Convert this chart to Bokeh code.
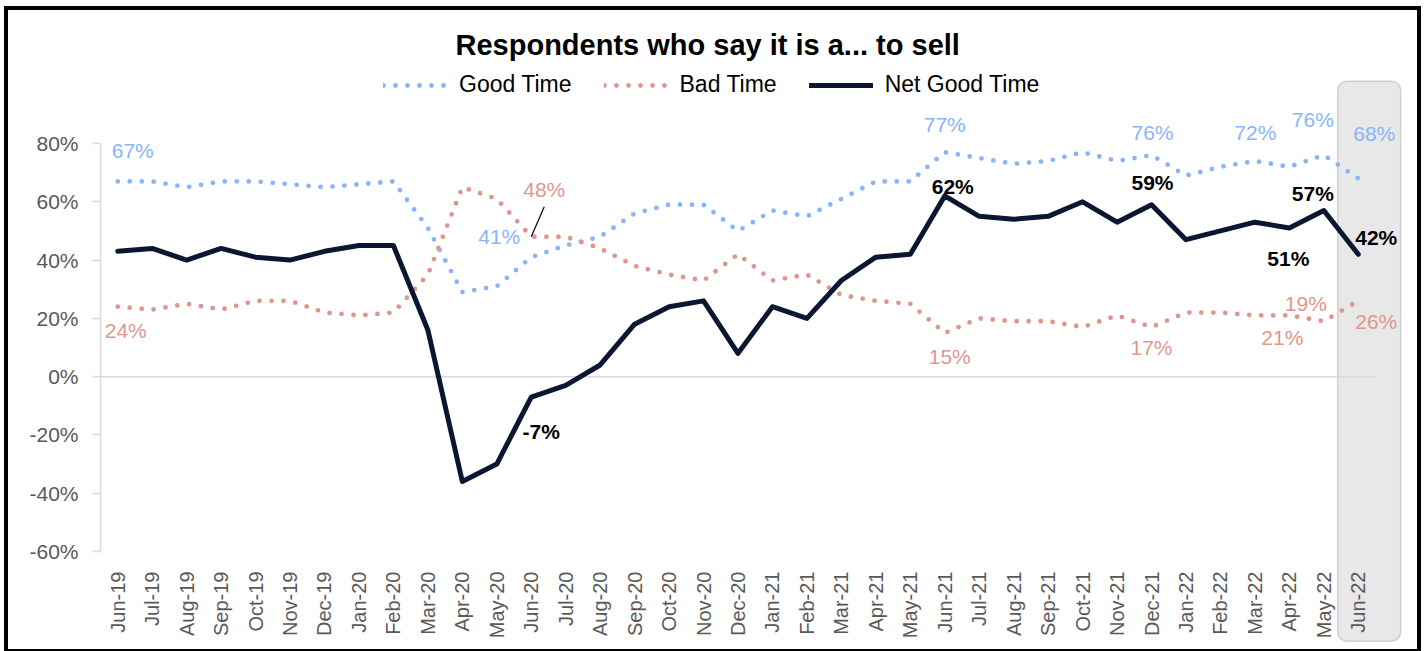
import math
from bokeh.plotting import figure
from bokeh.models import (Range1d, FixedTicker, NumeralTickFormatter,
                          BoxAnnotation, Legend, LegendItem, ColumnDataSource)
from bokeh.core.properties import value
from bokeh.embed import file_html
from bokeh.resources import INLINE

# ---------------- data ----------------
months = ["Jun-19", "Jul-19", "Aug-19", "Sep-19", "Oct-19", "Nov-19", "Dec-19", "Jan-20",
          "Feb-20", "Mar-20", "Apr-20", "May-20", "Jun-20", "Jul-20", "Aug-20", "Sep-20",
          "Oct-20", "Nov-20", "Dec-20", "Jan-21", "Feb-21", "Mar-21", "Apr-21", "May-21",
          "Jun-21", "Jul-21", "Aug-21", "Sep-21", "Oct-21", "Nov-21", "Dec-21", "Jan-22",
          "Feb-22", "Mar-22", "Apr-22", "May-22", "Jun-22"]
good = [67, 67, 65, 67, 67, 66, 65, 66, 67, 51, 29, 31, 41, 45, 48, 56, 59, 59, 50, 57, 55,
        61, 67, 67, 77, 75, 73, 74, 77, 74, 76, 69, 72, 74, 72, 76, 68]
bad = [24, 23, 25, 23, 26, 26, 22, 21, 22, 35, 65, 61, 48, 48, 44, 38, 35, 33, 42, 33, 35,
       28, 26, 25, 15, 20, 19, 19, 17, 21, 17, 22, 22, 21, 21, 19, 26]
net = [43, 44, 40, 44, 41, 40, 43, 45, 45, 16, -36, -30, -7, -3, 4, 18, 24, 26, 8, 24, 20,
       33, 41, 42, 62, 55, 54, 55, 60, 53, 59, 47, 50, 53, 51, 57, 42]
y_ticks = [-0.6, -0.4, -0.2, 0.0, 0.2, 0.4, 0.6, 0.8]

# labelled points (month names) and their pixel offsets
good_lab_months = ["Jun-19", "Jun-20", "Jun-21", "Dec-21", "Apr-22", "May-22", "Jun-22"]
good_lab_dx = [15, -32, 0, 1, -34, -11, 16]
good_lab_dy = [-31, -21, -28, -23, -34, -36, -45]
bad_lab_months = ["Jun-19", "Jun-20", "Jun-21", "Dec-21", "Apr-22", "May-22", "Jun-22"]
bad_lab_dx = [8, 13, 5, 0, -7, -18, 18]
bad_lab_dy = [24, -47, 24, 20, 22, -18, 21]
net_lab_months = ["Jun-20", "Jun-21", "Dec-21", "Apr-22", "May-22", "Jun-22"]
net_lab_dx = [10, 8, 1, -1, -11, 18]
net_lab_dy = [34, -9, -22, 30, -17, -17]

FONT = "Liberation Sans"
GOOD_C = "#8AB4F8"
BAD_C = "#DE978D"
NET_C = "#0B1630"
AX_C = "#D9D9D9"
TXT_C = "#595959"

W, H = 1409, 639
BL, BR, BT, BB = 92, 4, 52, 0
YMIN, YMAX = -0.6, 0.8
xpx = 1275 / len(months)          # pixels per month
ypx = 408 / (YMAX - YMIN)         # pixels per unit of share
PLOT_TOP = 133                    # canvas y of the 80% line
FW = W - BL - BR
FH = H - BT - BB
x_start = -0.5
x_end = x_start + FW / xpx
y_top = YMAX + (PLOT_TOP - BT) / ypx
y_bot = y_top - FH / ypx

xi = list(range(len(months)))

p = figure(width=W, height=H, x_range=Range1d(x_start, x_end), y_range=Range1d(y_bot, y_top),
           output_backend="svg", toolbar_location=None,
           min_border_left=BL, min_border_right=BR, min_border_top=BT, min_border_bottom=BB)
p.styles = {"outline": "4px solid black", "margin-left": "8px", "margin-top": "10px"}
p.outline_line_color = None
p.xgrid.visible = False
p.ygrid.visible = False
p.background_fill_color = "white"
p.border_fill_color = "white"

# highlight box around last month
last = months.index("Jun-22")
box = BoxAnnotation(left=last - 20.6 / xpx, right=last + 42.4 / xpx, top=YMAX + 62.3 / ypx,
                    bottom=YMIN - 89.7 / ypx, fill_color="#E8E8E8", fill_alpha=1,
                    line_color="#7F7F7F", line_width=1.5, border_radius=9, level="underlay")
p.add_layout(box)

# zero line
p.segment(x0=[x_start], y0=[0], x1=[len(months) - 0.5], y1=[0], line_color=AX_C, line_width=1.5)

src = ColumnDataSource(dict(x=xi, good=[v / 100 for v in good], bad=[v / 100 for v in bad],
                            net=[v / 100 for v in net]))
r_good = p.line("x", "good", source=src, line_color=GOOD_C, line_width=4.8, line_dash="0 12",
                line_cap="round", line_join="round")
r_bad = p.line("x", "bad", source=src, line_color=BAD_C, line_width=4.8, line_dash="0 12",
               line_cap="round", line_join="round")
r_net = p.line("x", "net", source=src, line_color=NET_C, line_width=5, line_cap="round",
               line_join="round")


def labels(ms, series, dx, dy, color, style):
    idx = [months.index(m) for m in ms]
    vals = [series[i] for i in idx]
    s = ColumnDataSource(dict(x=idx, y=[v / 100 for v in vals], t=[f"{v}%" for v in vals],
                              dx=dx, dy=dy))
    p.text("x", "y", text="t", source=s, x_offset="dx", y_offset="dy", text_align="center",
           text_baseline="middle", text_color=color, text_font=value(FONT),
           text_font_size=value("21px"), text_font_style=style)


labels(good_lab_months, good, good_lab_dx, good_lab_dy, GOOD_C, "normal")
labels(bad_lab_months, bad, bad_lab_dx, bad_lab_dy, BAD_C, "normal")
labels(net_lab_months, net, net_lab_dx, net_lab_dy, "black", "bold")

# leader line for the Jun-20 "Bad Time" label
li = months.index("Jun-20")
lv = bad[li] / 100
p.segment(x0=[li], y0=[lv], x1=[li + 13 / xpx], y1=[lv + 30 / ypx], line_color="black",
          line_width=1.2)

# x axis: drawn at the bottom of the value scale
p.xaxis.fixed_location = YMIN
p.xaxis.ticker = FixedTicker(ticks=xi)
p.xaxis.major_label_overrides = {i: m for i, m in zip(xi, months)}
p.xaxis.axis_line_color = None
p.xaxis.major_tick_line_color = None
p.xaxis.minor_tick_line_color = None
p.xaxis.major_label_orientation = math.pi / 2
p.xaxis.major_label_text_font = FONT
p.xaxis.major_label_text_font_size = "20px"
p.xaxis.major_label_text_color = TXT_C
p.xaxis.major_label_standoff = 14

p.yaxis.ticker = FixedTicker(ticks=y_ticks)
p.yaxis.bounds = (YMIN, YMAX)
p.yaxis.formatter = NumeralTickFormatter(format="0%")
p.yaxis.axis_line_color = AX_C
p.yaxis.axis_line_width = 1.5
p.yaxis.major_tick_line_color = AX_C
p.yaxis.major_tick_line_width = 1.5
p.yaxis.major_tick_out = 8
p.yaxis.major_tick_in = 0
p.yaxis.minor_tick_line_color = None
p.yaxis.major_label_text_font = FONT
p.yaxis.major_label_text_font_size = "21px"
p.yaxis.major_label_text_color = TXT_C
p.yaxis.major_label_standoff = 14

# title
p.title.text = "Respondents who say it is a... to sell"
p.title.align = "left"
p.title.offset = 355
p.title.standoff = 4
p.title.text_font = FONT
p.title.text_font_size = "29px"
p.title.text_font_style = "bold"
p.title.text_color = "black"

# legend (inside the frame, above the value scale)
legend = Legend(items=[LegendItem(label="Good Time", renderers=[r_good]),
                       LegendItem(label="Bad Time", renderers=[r_bad]),
                       LegendItem(label="Net Good Time", renderers=[r_net])],
                orientation="horizontal", location=(283, 551), padding=0,
                margin=0, spacing=32, label_standoff=12, glyph_width=64, glyph_height=24,
                label_height=24, label_text_font=FONT, label_text_font_size="23px",
                label_text_color="black", border_line_color=None, background_fill_alpha=0)
p.add_layout(legend)

open("out.html", "w").write(file_html(p, INLINE))
